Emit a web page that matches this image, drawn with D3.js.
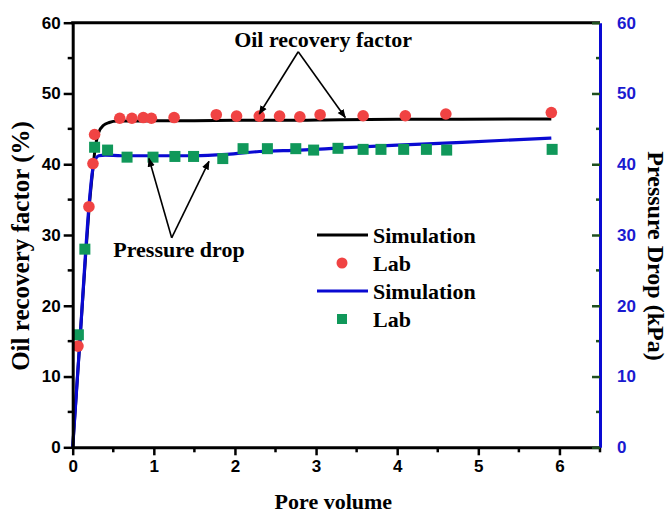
<!DOCTYPE html>
<html>
<head>
<meta charset="utf-8">
<script src="https://cdn.jsdelivr.net/npm/d3@7"></script>
<style>
  html, body { margin: 0; padding: 0; background: #fff; }
  svg { display: block; }
</style>
</head>
<body>
<svg id="chart" width="672" height="514"></svg>
<script>
// Simulated oil recovery factor (%) vs injected pore volume
const simRecoveryPV = [0, 0.05, 0.10, 0.15, 0.20, 0.25, 0.28, 0.32, 0.38, 0.45, 0.55, 0.70, 1.0, 1.5, 2.0, 2.6, 3.3, 4.0, 4.8, 5.9];
const simRecovery   = [0, 8.5, 17, 25.5, 33.5, 39.5, 42.5, 44.5, 45.5, 45.9, 46.1, 46.1, 46.15, 46.15, 46.2, 46.2, 46.3, 46.35, 46.35, 46.4];

// Lab oil recovery factor (%)
const labRecoveryPV = [0.065, 0.20, 0.25, 0.27, 0.58, 0.73, 0.87, 0.97, 1.25, 1.77, 2.02, 2.30, 2.55, 2.80, 3.05, 3.58, 4.10, 4.60, 5.90];
const labRecovery   = [14.3, 34.0, 40.1, 44.2, 46.5, 46.5, 46.6, 46.5, 46.6, 47.0, 46.8, 46.8, 46.8, 46.7, 47.0, 46.85, 46.85, 47.1, 47.3];

// Simulated pressure drop (kPa)
const simPressurePV = [0, 0.05, 0.10, 0.15, 0.20, 0.25, 0.28, 0.32, 0.40, 0.60, 1.0, 1.5, 1.9, 2.3, 2.8, 3.3, 4.0, 4.8, 5.9];
const simPressure   = [0, 8.5, 17, 26, 34, 39.5, 40.7, 41.2, 41.3, 41.2, 41.2, 41.2, 41.4, 41.8, 42.0, 42.3, 42.7, 43.1, 43.7];

// Lab pressure drop (kPa)
const labPressurePV = [0.07, 0.15, 0.27, 0.43, 0.67, 0.99, 1.26, 1.49, 1.85, 2.10, 2.40, 2.75, 2.97, 3.27, 3.58, 3.80, 4.08, 4.36, 4.61, 5.91];
const labPressure   = [15.9, 28.0, 42.4, 42.0, 41.0, 41.0, 41.1, 41.1, 40.8, 42.2, 42.2, 42.2, 42.0, 42.25, 42.1, 42.1, 42.1, 42.1, 42.0, 42.1];

// Axis ticks
const xTicks = [0, 1, 2, 3, 4, 5, 6];
const xMinorTicks = [0.5, 1.5, 2.5, 3.5, 4.5, 5.5, 6.5];
const yTicks = [0, 10, 20, 30, 40, 50, 60];
const yMinorTicks = [5, 15, 25, 35, 45, 55];

const legendLabels = ["Simulation", "Lab", "Simulation", "Lab"];

const svg = d3.select("#chart");
const plotLeft = 72.7, plotRight = 600, plotTop = 22.7, plotBottom = 447.3;

const x = d3.scaleLinear().domain([0, 6.5]).range([plotLeft, plotRight]);
const yL = d3.scaleLinear().domain([0, 60]).range([plotBottom, plotTop]);
const yR = d3.scaleLinear().domain([0, 60]).range([plotBottom, plotTop]);

const serif = "'Liberation Serif', 'Times New Roman', serif";
const sans = "'Liberation Sans', Arial, sans-serif";
const RED = "#f04343", GREEN = "#10985a", BLUE = "#0a0ad2", TICKBLUE = "#1a1ad0", TICKGREEN = "#1f4f1f";

// Simulation curves
const lineL = d3.line().x(d => x(d[0])).y(d => yL(d[1])).curve(d3.curveMonotoneX);
const lineR = d3.line().x(d => x(d[0])).y(d => yR(d[1])).curve(d3.curveMonotoneX);

svg.append("path")
  .datum(simRecoveryPV.map((v, i) => [v, simRecovery[i]]))
  .attr("d", lineL)
  .attr("fill", "none").attr("stroke", "#000").attr("stroke-width", 3);

svg.append("path")
  .datum(simPressurePV.map((v, i) => [v, simPressure[i]]))
  .attr("d", lineR)
  .attr("fill", "none").attr("stroke", BLUE).attr("stroke-width", 3.2);

// Lab points
svg.append("g").selectAll("circle")
  .data(labRecoveryPV.map((v, i) => [v, labRecovery[i]]))
  .join("circle")
  .attr("cx", d => x(d[0])).attr("cy", d => yL(d[1]))
  .attr("r", 5.8).attr("fill", RED);

const sq = 11;
svg.append("g").selectAll("rect")
  .data(labPressurePV.map((v, i) => [v, labPressure[i]]))
  .join("rect")
  .attr("x", d => x(d[0]) - sq / 2).attr("y", d => yR(d[1]) - sq / 2)
  .attr("width", sq).attr("height", sq).attr("fill", GREEN);

// Axes
function styleAxis(g, color, tickColor, labelColor) {
  g.select(".domain").attr("stroke", color).attr("stroke-width", 3);
  g.selectAll(".tick line").attr("stroke", tickColor).attr("stroke-width", 2.5);
  g.selectAll(".tick text").attr("fill", labelColor)
    .style("font-family", sans).style("font-weight", "bold").style("font-size", "17px");
}

// bottom
const gx = svg.append("g").attr("transform", `translate(0,${plotBottom})`)
  .call(d3.axisBottom(x).tickValues(xTicks).tickFormat(d3.format("d")).tickSizeInner(8).tickSizeOuter(0).tickPadding(5));
styleAxis(gx, "#000", "#000", "#000");
svg.append("g").attr("transform", `translate(0,${plotBottom})`)
  .selectAll("line").data(xMinorTicks).join("line")
  .attr("x1", d => x(d)).attr("x2", d => x(d)).attr("y1", 0).attr("y2", 5)
  .attr("stroke", "#000").attr("stroke-width", 2.5);

// left
const gy = svg.append("g").attr("transform", `translate(${plotLeft},0)`)
  .call(d3.axisLeft(yL).tickValues(yTicks).tickFormat(d3.format("d")).tickSizeInner(9).tickSizeOuter(0).tickPadding(3));
styleAxis(gy, "#000", "#000", "#000");
svg.append("g").attr("transform", `translate(${plotLeft},0)`)
  .selectAll("line").data(yMinorTicks).join("line")
  .attr("x1", 0).attr("x2", -5).attr("y1", d => yL(d)).attr("y2", d => yL(d))
  .attr("stroke", "#000").attr("stroke-width", 2.5);

// top frame line
svg.append("line").attr("x1", plotLeft - 1.5).attr("x2", plotRight).attr("y1", plotTop).attr("y2", plotTop)
  .attr("stroke", "#000").attr("stroke-width", 3);

// right (pressure drop)
const gr = svg.append("g").attr("transform", `translate(${plotRight},0)`)
  .call(d3.axisRight(yR).tickValues(yTicks).tickFormat(d3.format("d")).tickSizeInner(-8).tickSizeOuter(0).tickPadding(17));
styleAxis(gr, BLUE, TICKGREEN, TICKBLUE);
gr.selectAll(".tick text").attr("text-anchor", "start");
svg.append("g").attr("transform", `translate(${plotRight},0)`)
  .selectAll("line").data(yMinorTicks).join("line")
  .attr("x1", 0).attr("x2", -4).attr("y1", d => yR(d)).attr("y2", d => yR(d))
  .attr("stroke", TICKGREEN).attr("stroke-width", 2.5);
gr.raise();

// Axis titles
svg.append("text")
  .attr("transform", `translate(${(plotLeft + plotRight) / 2 - 3},509)`)
  .attr("text-anchor", "middle")
  .style("font-family", serif).style("font-weight", "bold").style("font-size", "22px")
  .text("Pore volume");

svg.append("text")
  .attr("transform", `translate(29,${(plotTop + plotBottom) / 2 + 11}) rotate(-90)`)
  .attr("text-anchor", "middle")
  .style("font-family", serif).style("font-weight", "bold").style("font-size", "25px")
  .text("Oil recovery factor (%)");

svg.append("text")
  .attr("transform", `translate(648,${(plotTop + plotBottom) / 2 + 21}) rotate(90)`)
  .attr("text-anchor", "middle")
  .style("font-family", serif).style("font-weight", "bold").style("font-size", "24px")
  .text("Pressure Drop (kPa)");

// Annotations with arrows
const defs = svg.append("defs");
defs.append("marker").attr("id", "head")
  .attr("viewBox", "0 0 10 10").attr("refX", 9).attr("refY", 5)
  .attr("markerWidth", 9).attr("markerHeight", 9).attr("markerUnits", "userSpaceOnUse")
  .attr("orient", "auto")
  .append("path").attr("d", "M0,1 L10,5 L0,9 Z").attr("fill", "#000");

const annotations = [
  { text: "Oil recovery factor", tx: 1.99, ty: 56.6, apex: [2.78, 55.9], tips: [[2.30, 47.1], [3.36, 46.6]] },
  { text: "Pressure drop", tx: 0.50, ty: 26.9, apex: [1.22, 29.6], tips: [[0.94, 40.8], [1.68, 40.4]] }
];
annotations.forEach(a => {
  a.tips.forEach(t => {
    svg.append("line")
      .attr("x1", x(a.apex[0])).attr("y1", yL(a.apex[1]))
      .attr("x2", x(t[0])).attr("y2", yL(t[1]))
      .attr("stroke", "#000").attr("stroke-width", 1.6)
      .attr("marker-end", "url(#head)");
  });
  svg.append("text")
    .attr("x", x(a.tx)).attr("y", yL(a.ty))
    .style("font-family", serif).style("font-weight", "bold").style("font-size", "22px")
    .text(a.text);
});

// Legend
const legend = svg.append("g").attr("transform", "translate(317,235)");
const rowH = 28;
legendLabels.forEach((lab, i) => {
  const g = legend.append("g").attr("transform", `translate(0,${i * rowH})`);
  if (i === 0 || i === 2) {
    g.append("line").attr("x1", 0).attr("x2", 51).attr("y1", 0).attr("y2", 0)
      .attr("stroke", i === 0 ? "#000" : BLUE).attr("stroke-width", 3);
  } else if (i === 1) {
    g.append("circle").attr("cx", 25).attr("cy", 0).attr("r", 5.5).attr("fill", RED);
  } else {
    g.append("rect").attr("x", 20).attr("y", -5).attr("width", 10).attr("height", 10).attr("fill", GREEN);
  }
  g.append("text").attr("x", 56).attr("y", 8)
    .style("font-family", serif).style("font-weight", "bold").style("font-size", "22px")
    .text(lab);
});
</script>
</body>
</html>
